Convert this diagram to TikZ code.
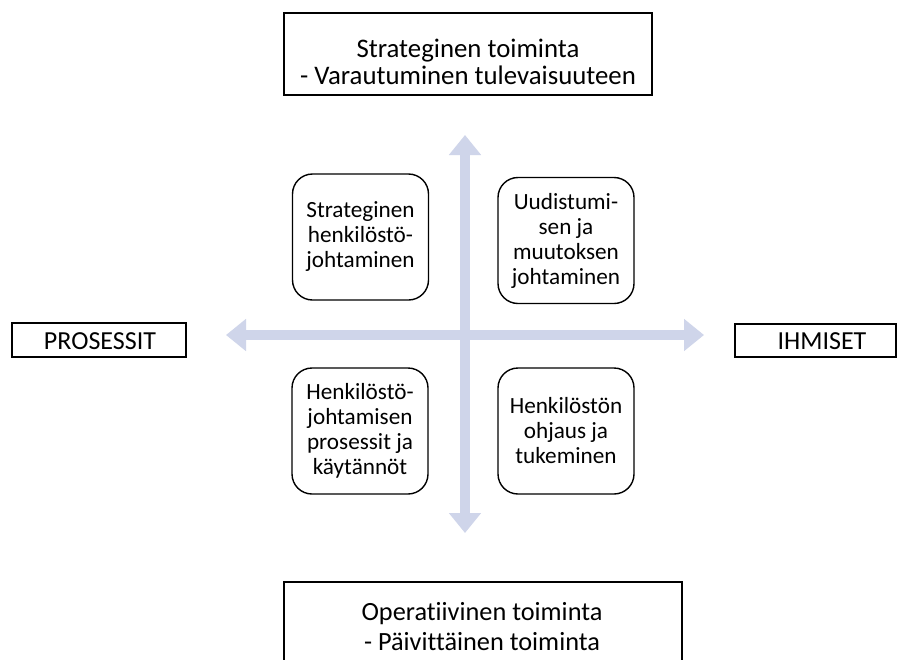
\documentclass[tikz,border=0pt]{standalone}
\usepackage{fontspec}
\setmainfont{Carlito}[Ligatures=NoCommon]
\usetikzlibrary{arrows.meta}
\definecolor{axis}{RGB}{207,213,234}
\tikzset{
  x=1pt, y=-1pt,
  plainbox/.style={draw=black, line width=1.4pt, fill=white, inner sep=0pt},
  boxtext/.style={inner sep=0pt, align=center},
  roundbox/.style={draw=black, line width=1.4pt, rounded corners=20pt, inner sep=0pt, align=center,
    minimum width=136pt, minimum height=126pt, font=\fontsize{23.2}{25}\selectfont},
  axisarrow/.style={draw=axis, line width=9.5pt, {Triangle[width=31pt,length=20pt]}-{Triangle[width=31pt,length=20pt]}},
}
\begin{document}
\begin{tikzpicture}
\useasboundingbox (0,0) rectangle (897,659);
\clip (0,0) rectangle (897,659);
\fill[white] (0,0) rectangle (897,659);
% axes
\coordinate (up) at (465,135);
\coordinate (down) at (465,533);
\coordinate (left) at (226,335);
\coordinate (right) at (704,335);
\draw[axisarrow] (down) -- (up);
\draw[axisarrow] (left) -- (right);
% top and bottom boxes
\node[plainbox, minimum width=368pt, minimum height=82pt] (top) at (468,54) {};
\node[boxtext, font=\fontsize{26.8}{27}\selectfont] (toptext) at (468,62)
  {Strateginen toiminta\\- Varautuminen tulevaisuuteen};
\node[plainbox, minimum width=398pt, minimum height=90pt] (bottom) at (483,627) {};
\node[boxtext, font=\fontsize{26.3}{30}\selectfont] (bottomtext) at (482,627)
  {Operatiivinen toiminta\\- Päivittäinen toiminta};
% side boxes
\node[plainbox, minimum width=174pt, minimum height=34pt] (pros) at (99,340) {};
\node[boxtext, font=\fontsize{26}{28}\selectfont] (prostext) at (100,341) {PROSESSIT};
\node[plainbox, minimum width=161pt, minimum height=33pt] (ihm) at (815.5,340.5) {};
\node[boxtext, font=\fontsize{26}{28}\selectfont] (ihmtext) at (822,341) {IHMISET};
% quadrant boxes
\node[roundbox] (tl) at (360.5,237) {Strateginen\\henkilöstö-\\johtaminen};
\node[roundbox] (tr) at (566,240.5) {Uudistumi-\\sen ja\\muutoksen\\johtaminen};
\node[roundbox] (bl) at (360,431) {Henkilöstö-\\johtamisen\\prosessit ja\\käytännöt};
\node[roundbox] (br) at (566,431) {Henkilöstön\\ohjaus ja\\tukeminen};
\end{tikzpicture}
\end{document}
